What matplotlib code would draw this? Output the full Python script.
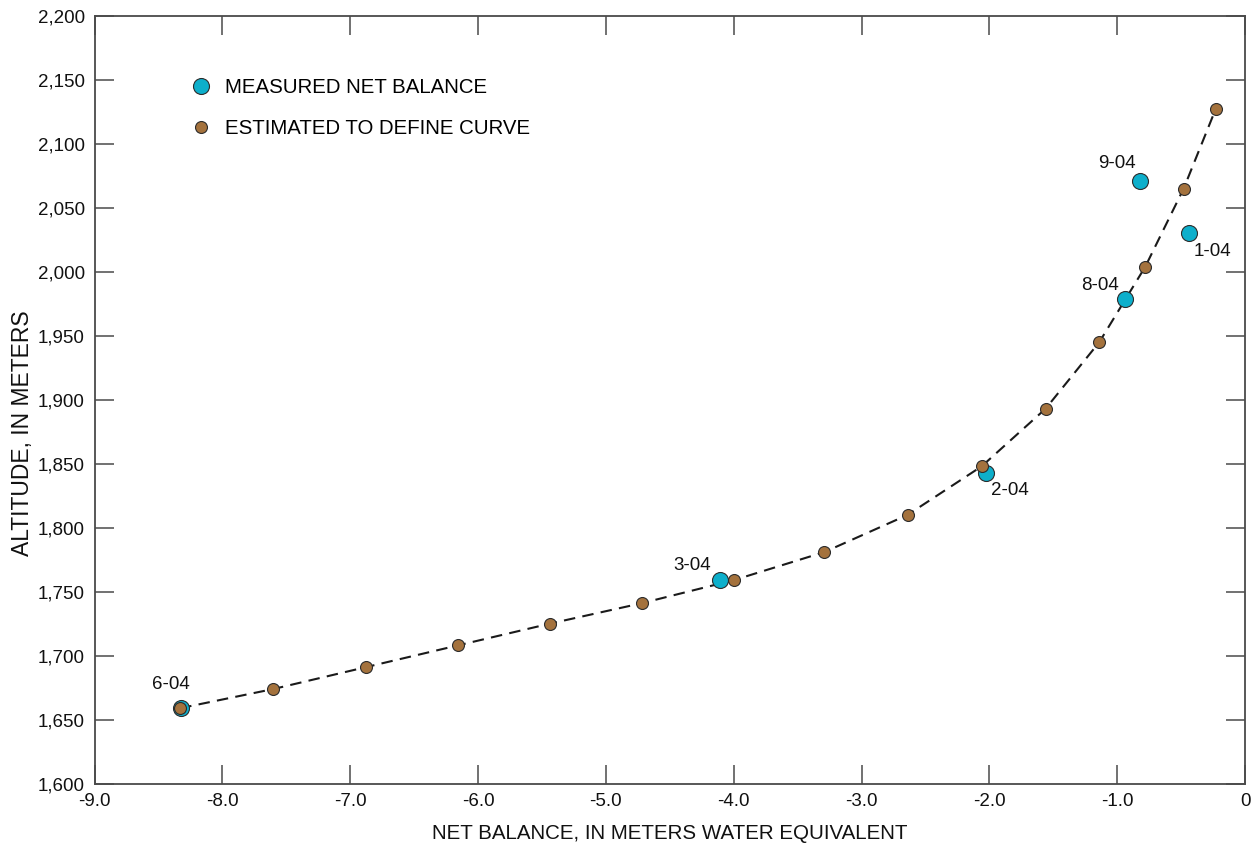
import numpy as np
import matplotlib
matplotlib.use('Agg')
import matplotlib.pyplot as plt
from matplotlib.lines import Line2D
from matplotlib.ticker import FuncFormatter, MultipleLocator

plt.rcParams['font.family'] = ['Liberation Sans', 'DejaVu Sans']

# points picked along the curve
est_x = [-8.33, -7.60, -6.88, -6.16, -5.44, -4.72, -4.00, -3.29, -2.64,
         -2.06, -1.56, -1.14, -0.78, -0.48, -0.23]
est_alt = [1659, 1674, 1691, 1708, 1725, 1741, 1759, 1781, 1810,
           1848, 1893, 1945, 2004, 2065, 2127]

# measured stakes
meas_x = [-8.32, -4.11, -2.03, -0.94, -0.82, -0.44]
meas_alt = [1659, 1759, 1843, 1979, 2071, 2030]
meas_names = ['6-04', '3-04', '2-04', '8-04', '9-04', '1-04']
name_offsets = [(-11, 24), (-27, 15), (24, -18), (-25, 13), (-23, 17), (24, -18)]

BLUE = '#0DAFCB'
BROWN = '#A4723D'
EDGE = '#2b2b2b'
AXC = '#4a4a4a'
TXT = '#111111'

fig = plt.figure(figsize=(12.57, 8.49), dpi=100)
ax = fig.add_axes([0.0752, 0.0769, 0.9153, 0.9046])

ax.plot(est_x, est_alt, color='#1a1a1a', lw=1.5, dashes=(5.5, 3.5), zorder=1)
ax.plot(meas_x, meas_alt, 'o', ms=11.5, mfc=BLUE, mec=EDGE, mew=0.8, zorder=2)
ax.plot(est_x, est_alt, 'o', ms=8.6, mfc=BROWN, mec=EDGE, mew=0.8, zorder=3)

for x, y, name, off in zip(meas_x, meas_alt, meas_names, name_offsets):
    ax.annotate(name, (x, y), xytext=off, textcoords='offset pixels',
                ha='center', va='center', fontsize=13.5, color=TXT)

ax.set_xlim(-9, 0)
ax.set_ylim(1600, 2200)
ax.xaxis.set_major_locator(MultipleLocator(1))
ax.yaxis.set_major_locator(MultipleLocator(50))
ax.xaxis.set_major_formatter(FuncFormatter(lambda v, p: '0' if abs(v) < 1e-9 else f'{v:.1f}'))
ax.yaxis.set_major_formatter(FuncFormatter(lambda v, p: f'{v:,.0f}'))

ax.tick_params(direction='in', length=13.5, width=1.1, color=AXC,
               top=True, right=True, labelsize=13.5, pad=7, labelcolor=TXT)
for s in ax.spines.values():
    s.set_color(AXC)
    s.set_linewidth(1.3)

ax.set_xlabel('NET BALANCE, IN METERS WATER EQUIVALENT', fontsize=14.8, color=TXT)
ax.set_ylabel('ALTITUDE, IN METERS', fontsize=16.5, color=TXT)
ax.xaxis.set_label_coords(0.5, -0.052)
ax.yaxis.set_label_coords(-0.053, 0.457)

handles = [
    Line2D([], [], ls='none', marker='o', ms=11.5, mfc=BLUE, mec=EDGE, mew=0.8),
    Line2D([], [], ls='none', marker='o', ms=8.6, mfc=BROWN, mec=EDGE, mew=0.8),
]
ax.legend(handles, ['MEASURED NET BALANCE', 'ESTIMATED TO DEFINE CURVE'],
          loc='upper left', bbox_to_anchor=(0.066, 0.943), frameon=False,
          fontsize=14.7, handletextpad=0.55, labelspacing=1.1, handlelength=1.2)

fig.savefig('out.png', dpi=100)
